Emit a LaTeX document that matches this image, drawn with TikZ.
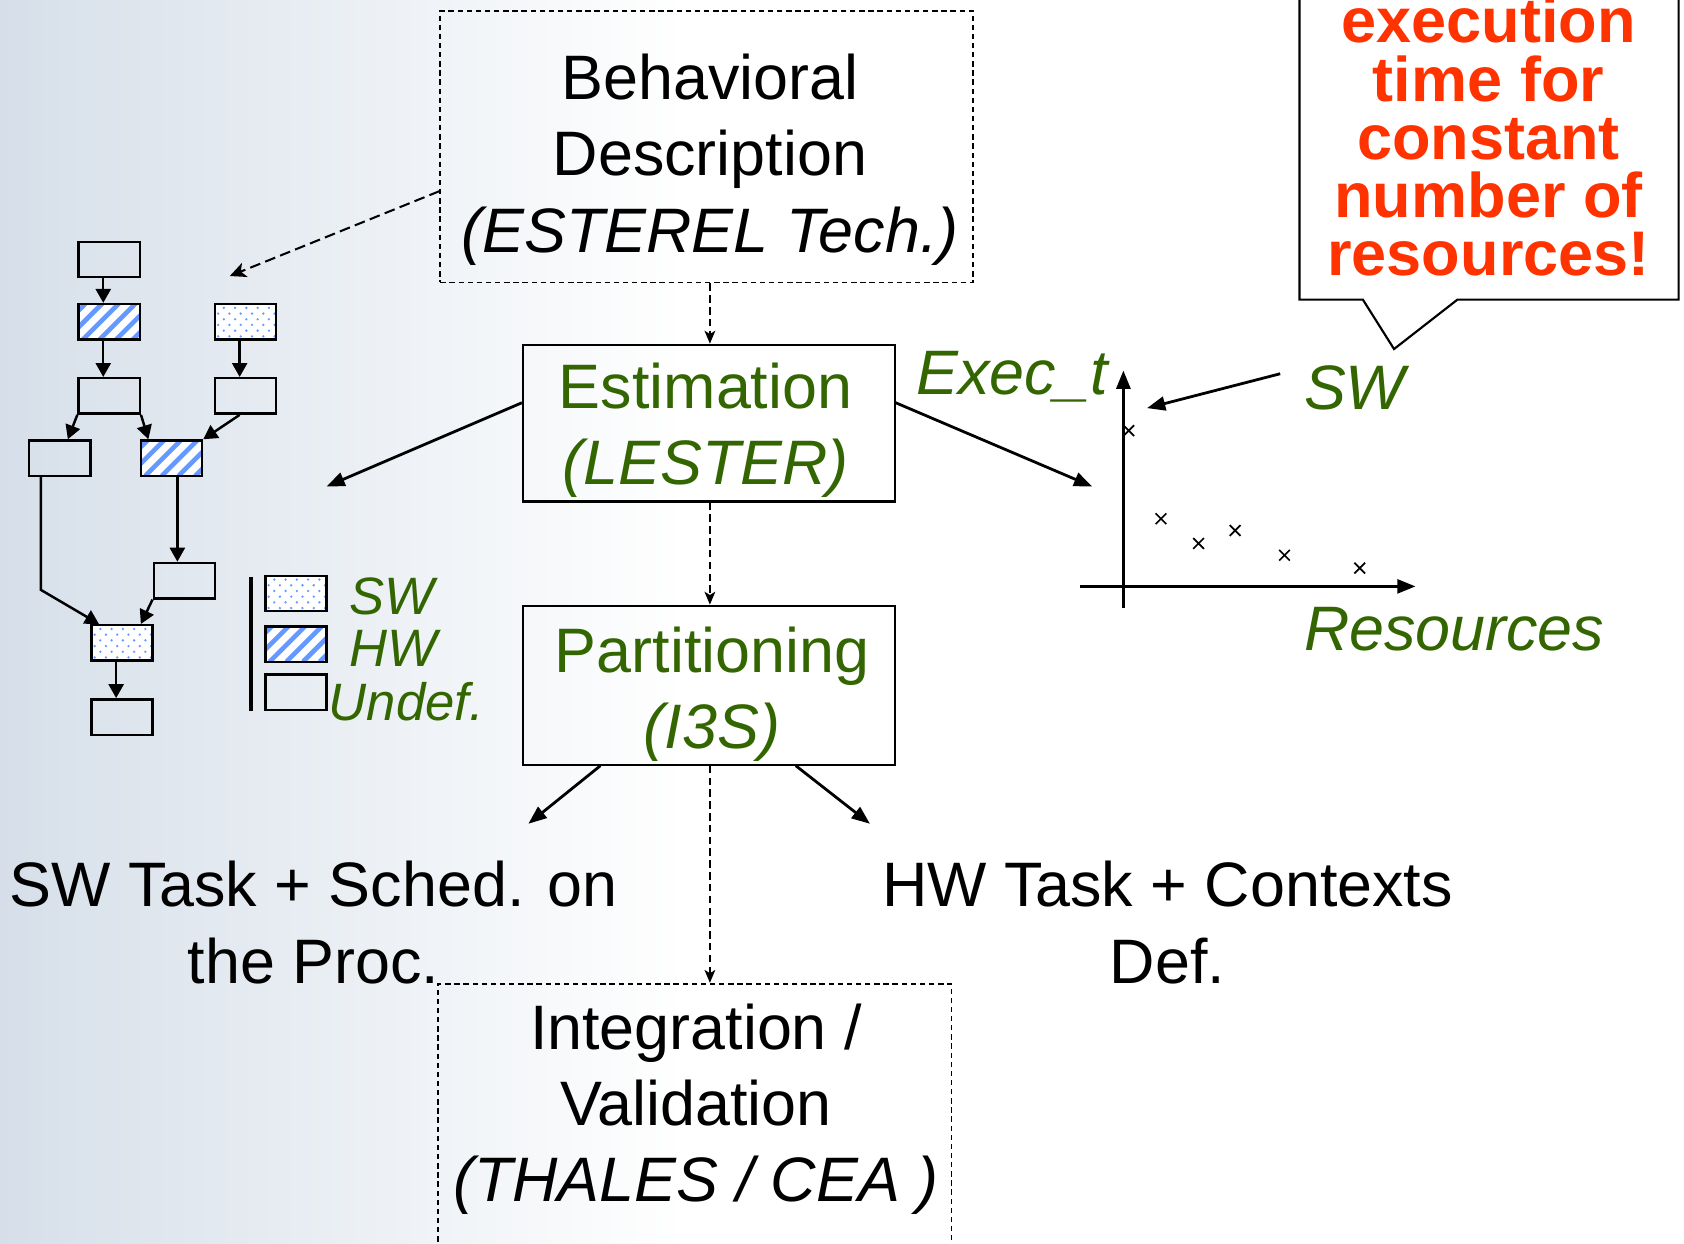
\documentclass[tikz,border=0pt]{standalone}
\usepackage{fontspec}
\setmainfont{Liberation Sans}
\usetikzlibrary{arrows.meta,calc}
\definecolor{tgreen}{RGB}{51,102,0}
\definecolor{tred}{RGB}{255,51,0}
\definecolor{pblue}{RGB}{102,153,255}
\definecolor{bgblue}{RGB}{214,223,233}
\begin{document}
\begin{tikzpicture}[x=1pt,y=-1pt,
  big/.style={font=\fontsize{58.5}{71}\selectfont, inner sep=0pt, align=center},
  leg/.style={font=\fontsize{49}{58}\selectfont\itshape, text=tgreen, inner sep=0pt, anchor=base west},
  sbox/.style={draw, line width=2pt, inner sep=0pt},
  dbox/.style={draw, line width=1.7pt, dash pattern=on 5pt off 3.5pt, inner sep=0pt},
  gbox/.style={draw, line width=2.3pt, minimum width=57pt, minimum height=33pt, inner sep=0pt, anchor=north west},
  hwbox/.style={gbox, fill=white, path picture={
      \foreach \k in {-3,...,4}
        \draw[pblue, line width=4.3pt] ([xshift=\k*15.5pt+4pt]path picture bounding box.south west) -- ++(45pt,45pt);}},
  swbox/.style={gbox, fill=white, path picture={
      \foreach \i in {0,...,5} \foreach \j in {0,...,6} {
        \pgfmathsetmacro\dx{\i*10.5+mod(\j,2)*5.25+3}
        \pgfmathsetmacro\dy{\j*5.3+3}
        \fill[pblue] ([xshift=\dx pt,yshift=\dy pt]path picture bounding box.south west) circle (1.2pt);}}},
  garr/.style={line width=2.3pt, -{Triangle[length=13pt,width=14pt]}},
  marr/.style={line width=2.6pt, -{Triangle[length=17pt,width=13pt]}},
  darr/.style={line width=1.7pt, dash pattern=on 7pt off 4pt, -{Stealth[length=12pt,width=10pt,inset=3pt]}},
  ldarr/.style={line width=1.9pt, dash pattern=on 10pt off 5pt, -{Stealth[length=15pt,width=14pt,inset=4pt]}},
]
\useasboundingbox (0,0) rectangle (1568,1158);
\shade[left color=bgblue, right color=white] (0,0) rectangle (640,1158);

% main boxes
\node[dbox, minimum width=496pt, minimum height=253pt] (beh) at (658,136.5) {};
\node[sbox, minimum width=346pt, minimum height=146pt] (est) at (660,394) {};
\node[sbox, minimum width=346pt, minimum height=148pt] (par) at (660,638) {};
\node[dbox, minimum width=478pt, minimum height=254pt] (integ) at (647,1043) {};

% texts
\node[big] (behT) at (661,148.7) {Behavioral\\Description\\\itshape (ESTEREL Tech.)};
\node[big, text=tgreen] (estT) at (657,400.8) {Estimation\\\itshape (LESTER)};
\node[big, text=tgreen] (parT) at (663,646.2) {Partitioning\\\itshape (I3S)};
\node[big] (intT) at (648,1033) {Integration /\\Validation\\\itshape (THALES / CEA )};
\node[big] (swT) at (292,859) {SW Task + Sched. on\\the Proc.};
\node[big] (hwT) at (1087,859) {HW Task + Contexts\\Def.};

% vertical dashed flow
\coordinate (ax) at (661,0);
\draw[darr] (beh.south -| ax) -- (est.north -| ax);
\draw[darr] (est.south -| ax) -- (par.north -| ax);
\draw[darr] (par.south -| ax) -- (integ.north -| ax);

% other arrows
\coordinate (gtip) at (214,257);
\draw[ldarr] ([yshift=-41.5pt]beh.west) -- (gtip);
\coordinate (eL) at (304,453);
\coordinate (eR) at (1017,453);
\draw[marr] ([yshift=19pt]est.west) -- (eL);
\draw[marr] ([yshift=19pt]est.east) -- (eR);
\coordinate (pL) at (492,767);
\coordinate (pR) at (810,767);
\draw[marr] ([xshift=-101pt]par.south) -- (pL);
\draw[marr] ([xshift=81pt]par.south) -- (pR);

% callout
\draw[line width=2pt, fill=white] (1210,-10) -- (1210,279) -- (1269,279) -- (1298,325) -- (1357,279) -- (1563,279) -- (1563,-10) -- cycle;
\node[font=\fontsize{58.7}{54.25}\selectfont\bfseries, text=tred, align=center, inner sep=0pt] (callT) at (1386,127.5)
  {execution\\time for\\constant\\number of\\resources!};

% chart
\draw[marr] (1046,566) -- (1046,345);
\draw[marr] (1006,546) -- (1318,546);
\foreach \px/\py in {1051/401, 1081/483, 1116/506, 1150/494, 1196/517, 1266/529}
  \draw[line width=1.6pt] (\px-5,\py-5) -- (\px+5,\py+5) (\px-5,\py+5) -- (\px+5,\py-5);
\node[big, text=tgreen, font=\fontsize{58.5}{71}\selectfont\itshape, anchor=base west] (exec) at (853,367) {Exec\_t};
\node[big, text=tgreen, font=\fontsize{58.5}{71}\selectfont\itshape, anchor=base west] (swlab) at (1214,381) {SW};
\node[big, text=tgreen, font=\fontsize{58.5}{71}\selectfont\itshape, anchor=base west] (reslab) at (1214,606) {Resources};
\coordinate (swA) at (1192,348);
\coordinate (swB) at (1068,380);
\draw[marr] (swA) -- (swB);

% task graph
\node[gbox] (A) at (72,224) {};
\node[hwbox] (B) at (72,282) {};
\node[swbox] (C) at (199,282) {};
\node[gbox] (D) at (72,351) {};
\node[gbox] (E) at (199,351) {};
\node[gbox] (F) at (26,409) {};
\node[hwbox] (G) at (130,409) {};
\node[gbox] (H) at (142,523) {};
\node[swbox] (I) at (84,581) {};
\node[gbox] (J) at (84,650) {};
\draw[garr] ([xshift=-5.5pt]A.south) -- ([xshift=-5.5pt]B.north);
\draw[garr] ([xshift=-5.5pt]B.south) -- ([xshift=-5.5pt]D.north);
\draw[garr] ([xshift=-5.5pt]C.south) -- ([xshift=-5.5pt]E.north);
\draw[garr] (D.south west) -- ([xshift=7.5pt]F.north);
\draw[garr] (D.south east) -- ([xshift=-21.5pt]G.north);
\draw[garr] ([xshift=-5.5pt]E.south) -- (G.north east);
\draw[garr] ([xshift=5.5pt]G.south) -- ([xshift=-6.5pt]H.north);
\draw[garr] ([xshift=-17.5pt]F.south) -- ++(0,105) -- ([xshift=-21.5pt]I.north);
\draw[garr] (H.south west) -- ([xshift=17.5pt]I.north);
\draw[garr] ([xshift=-5.5pt]I.south) -- ([xshift=-5.5pt]J.north);

% legend
\draw[line width=3.6pt] (234,537) -- (234,662);
\node[swbox] (lsw) at (246,535) {};
\node[hwbox] (lhw) at (246,582) {};
\node[gbox] (lun) at (246,627) {};
\node[leg] (lswT) at (325,572) {SW};
\node[leg] (lhwT) at (325,621) {HW};
\node[leg] (lunT) at (306,671) {Undef.};
\end{tikzpicture}
\end{document}
